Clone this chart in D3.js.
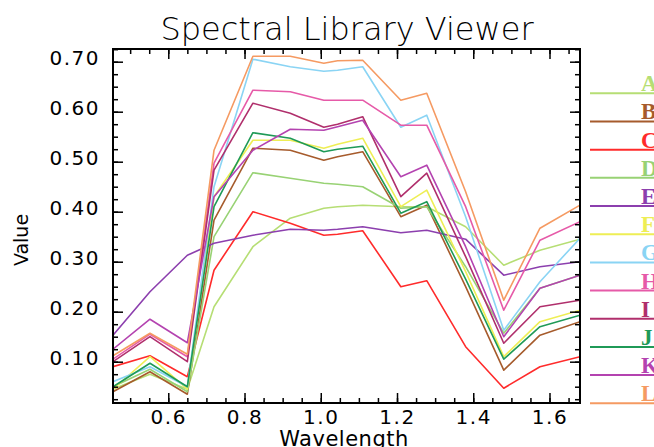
<!DOCTYPE html>
<html>
<head>
<meta charset="utf-8">
<script src="https://cdn.jsdelivr.net/npm/d3@7"></script>
<style>
  body { margin: 0; background: #fff; }
  svg { display: block; }
</style>
</head>
<body>
<div id="container"></div>
<script>
// wavelength samples (micrometres)
const wavelengths = [0.455, 0.552, 0.65, 0.72, 0.822, 0.92, 1.008, 1.044, 1.11, 1.21, 1.278, 1.38, 1.48, 1.575, 1.68];

const specA = [0.045, 0.075, 0.045, 0.21, 0.33, 0.387, 0.407, 0.41, 0.413, 0.41, 0.41, 0.37, 0.293, 0.323, 0.345];
const specB = [0.04, 0.08, 0.035, 0.383, 0.527, 0.523, 0.503, 0.51, 0.52, 0.39, 0.413, 0.25, 0.083, 0.153, 0.18];
const specC = [0.09, 0.112, 0.07, 0.283, 0.40, 0.377, 0.353, 0.355, 0.362, 0.25, 0.262, 0.13, 0.047, 0.09, 0.11];
const specD = [0.05, 0.085, 0.04, 0.35, 0.478, 0.467, 0.457, 0.455, 0.45, 0.407, 0.41, 0.29, 0.157, 0.247, 0.273];
const specE = [0.153, 0.24, 0.313, 0.337, 0.353, 0.365, 0.363, 0.365, 0.37, 0.358, 0.363, 0.345, 0.273, 0.29, 0.30];
const specF = [0.045, 0.11, 0.045, 0.43, 0.543, 0.543, 0.527, 0.535, 0.547, 0.41, 0.443, 0.28, 0.11, 0.18, 0.203];
const specG = [0.06, 0.09, 0.05, 0.45, 0.705, 0.69, 0.681, 0.683, 0.69, 0.569, 0.593, 0.39, 0.163, 0.26, 0.347];
const specH = [0.105, 0.155, 0.11, 0.497, 0.643, 0.64, 0.623, 0.623, 0.623, 0.573, 0.573, 0.41, 0.203, 0.343, 0.38];
const specI = [0.10, 0.15, 0.10, 0.483, 0.617, 0.597, 0.569, 0.575, 0.59, 0.43, 0.477, 0.31, 0.137, 0.21, 0.223];
const specJ = [0.05, 0.097, 0.05, 0.41, 0.558, 0.547, 0.52, 0.525, 0.531, 0.397, 0.42, 0.265, 0.105, 0.17, 0.193];
const specK = [0.125, 0.185, 0.138, 0.43, 0.523, 0.565, 0.563, 0.57, 0.583, 0.47, 0.493, 0.33, 0.15, 0.247, 0.273];
const specL = [0.112, 0.157, 0.115, 0.523, 0.711, 0.711, 0.697, 0.702, 0.703, 0.623, 0.637, 0.44, 0.223, 0.367, 0.413];

const seriesNames = ["A", "B", "C", "D", "E", "F", "G", "H", "I", "J", "K", "L"];
const seriesValues = [specA, specB, specC, specD, specE, specF, specG, specH, specI, specJ, specK, specL];
const seriesColors = ["#b6de74", "#a65b2c", "#ff2b2b", "#98d274", "#8c3fae", "#eeee55",
                      "#8ad4f4", "#e65aa8", "#b02f6c", "#1f9a57", "#b443b0", "#f59a62"];

const xMajor = [0.6, 0.8, 1.0, 1.2, 1.4, 1.6];
const xMinor = d3.range(10, 34).map(i => i * 0.05);
const yMajor = [0.1, 0.2, 0.3, 0.4, 0.5, 0.6, 0.7];
const yMinor = d3.range(1, 30).map(i => i * 0.025);

const width = 654, height = 447;
const plot = { left: 113, right: 580, top: 49, bottom: 403 };

const svg = d3.select("#container")
  .append("svg")
  .attr("width", width)
  .attr("height", height);

const x = d3.scaleLinear()
  .domain([wavelengths[0], wavelengths[wavelengths.length - 1]])
  .range([plot.left, plot.right]);

const y = d3.scaleLinear()
  .domain([0.0174, 0.7254])
  .range([plot.bottom, plot.top]);

svg.append("defs").append("clipPath")
  .attr("id", "plotclip")
  .append("rect")
  .attr("x", plot.left)
  .attr("y", plot.top)
  .attr("width", plot.right - plot.left)
  .attr("height", plot.bottom - plot.top);

// spectra
const line = d3.line()
  .x((d, i) => x(wavelengths[i]))
  .y(d => y(d));

svg.append("g")
  .attr("clip-path", "url(#plotclip)")
  .selectAll("path")
  .data(seriesValues)
  .enter()
  .append("path")
  .attr("fill", "none")
  .attr("stroke", (d, i) => seriesColors[i])
  .attr("stroke-width", 1.6)
  .attr("stroke-linejoin", "round")
  .attr("d", line);

// axes, ticks pointing inward on all four sides
const tickFont = "'DejaVu Sans', sans-serif";

function styleAxis(g) {
  g.select(".domain").remove();
  g.selectAll(".tick line").attr("stroke", "#000").attr("stroke-width", 1.5);
  g.selectAll(".tick text")
    .style("font-family", tickFont)
    .style("font-size", "20px")
    .style("letter-spacing", "1.5px")
    .attr("fill", "#000");
}

svg.append("g")
  .attr("transform", `translate(0,${plot.bottom})`)
  .call(d3.axisBottom(x).tickValues(xMajor).tickSize(-10).tickPadding(7).tickFormat(d3.format(".1f")))
  .call(styleAxis);

svg.append("g")
  .attr("transform", `translate(0,${plot.bottom})`)
  .call(d3.axisBottom(x).tickValues(xMinor).tickSize(-5).tickFormat(""))
  .call(styleAxis);

svg.append("g")
  .attr("transform", `translate(0,${plot.top})`)
  .call(d3.axisTop(x).tickValues(xMajor).tickSize(-10).tickFormat(""))
  .call(styleAxis);

svg.append("g")
  .attr("transform", `translate(0,${plot.top})`)
  .call(d3.axisTop(x).tickValues(xMinor).tickSize(-5).tickFormat(""))
  .call(styleAxis);

svg.append("g")
  .attr("transform", `translate(${plot.left},0)`)
  .call(d3.axisLeft(y).tickValues(yMajor).tickSize(-10).tickPadding(13).tickFormat(d3.format(".2f")))
  .call(styleAxis)
  .call(g => g.selectAll(".tick text").attr("dy", "0.13em"));

svg.append("g")
  .attr("transform", `translate(${plot.left},0)`)
  .call(d3.axisLeft(y).tickValues(yMinor).tickSize(-5).tickFormat(""))
  .call(styleAxis);

svg.append("g")
  .attr("transform", `translate(${plot.right},0)`)
  .call(d3.axisRight(y).tickValues(yMajor).tickSize(-10).tickFormat(""))
  .call(styleAxis);

svg.append("g")
  .attr("transform", `translate(${plot.right},0)`)
  .call(d3.axisRight(y).tickValues(yMinor).tickSize(-5).tickFormat(""))
  .call(styleAxis);

svg.append("rect")
  .attr("x", plot.left)
  .attr("y", plot.top)
  .attr("width", plot.right - plot.left)
  .attr("height", plot.bottom - plot.top)
  .attr("fill", "none")
  .attr("stroke", "#000")
  .attr("stroke-width", 2);

// titles
svg.append("text")
  .attr("x", 347)
  .attr("y", 40)
  .attr("text-anchor", "middle")
  .style("font-family", tickFont)
  .style("font-size", "32px")
  .style("font-weight", "200")
  .text("Spectral Library Viewer");

svg.append("text")
  .attr("x", 344)
  .attr("y", 446)
  .attr("text-anchor", "middle")
  .style("font-family", tickFont)
  .style("font-size", "21px")
  .style("letter-spacing", "0.5px")
  .text("Wavelength");

svg.append("text")
  .attr("transform", "translate(28,240) rotate(-90)")
  .attr("text-anchor", "middle")
  .style("font-family", tickFont)
  .style("font-size", "19px")
  .text("Value");

// legend on the right, clipped by the window edge
const legendY = d3.scalePoint()
  .domain(seriesNames)
  .range([93.3, 403.3]);

const legend = svg.append("g");

seriesNames.forEach((name, i) => {
  legend.append("line")
    .attr("x1", 590)
    .attr("x2", width)
    .attr("y1", legendY(name))
    .attr("y2", legendY(name))
    .attr("stroke", seriesColors[i])
    .attr("stroke-width", 2);

  legend.append("text")
    .attr("x", 641)
    .attr("y", legendY(name) - 2)
    .attr("fill", seriesColors[i])
    .style("font-family", "'Liberation Serif', serif")
    .style("font-weight", "bold")
    .style("font-size", "23px")
    .text(name);
});
</script>
</body>
</html>
